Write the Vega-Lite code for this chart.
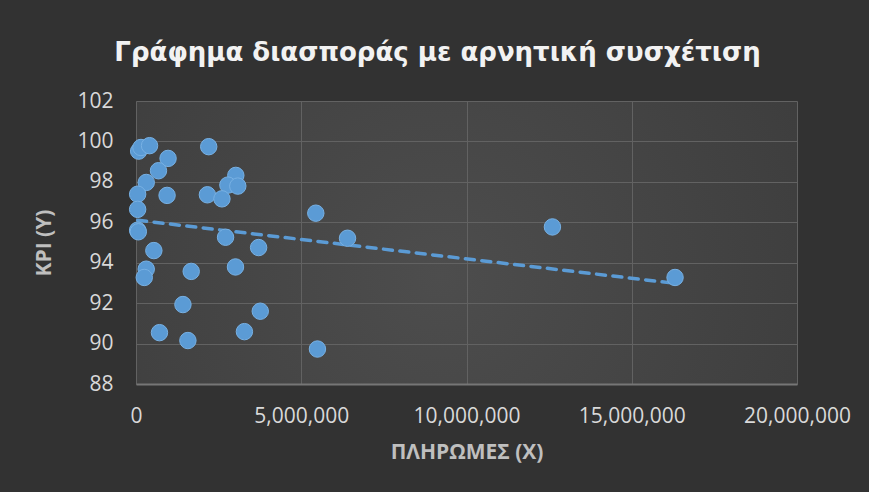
{
  "$schema": "https://vega.github.io/schema/vega-lite/v6.json",
  "width": 661,
  "height": 283,
  "autosize": {"type": "none"},
  "padding": {"left": 136, "top": 101, "right": 72, "bottom": 108},
  "background": "#323232",
  "title": {
    "text": "Γράφημα διασποράς με αρνητική συσχέτιση",
    "font": "DejaVu Sans",
    "fontSize": 26,
    "fontWeight": "bold",
    "color": "#f2f2f2",
    "anchor": "middle",
    "frame": "group",
    "dx": -29,
    "offset": 24
  },
  "config": {
    "view": {
      "stroke": null,
      "fill": {"gradient": "radial", "x1": 0.46, "y1": 0.55, "r1": 0, "x2": 0.46, "y2": 0.55, "r2": 0.75, "stops": [{"offset": 0, "color": "#4d4d4d"}, {"offset": 1, "color": "#3a3a3a"}]}
    },
    "axis": {
      "labelFont": "Open Sans",
      "labelFontSize": 21,
      "labelColor": "#d9d9d9",
      "titleFont": "Open Sans",
      "titleFontSize": 21,
      "titleFontWeight": "bold",
      "titleColor": "#bfbfbf",
      "gridColor": "#626262",
      "gridWidth": 1,
      "ticks": false
    }
  },
  "datasets": {
    "points": [
      {"payments": 80000, "kpi": 99.52},
      {"payments": 150000, "kpi": 99.70},
      {"payments": 410000, "kpi": 99.79},
      {"payments": 2200000, "kpi": 99.74},
      {"payments": 970000, "kpi": 99.16},
      {"payments": 680000, "kpi": 98.55},
      {"payments": 3020000, "kpi": 98.32},
      {"payments": 2780000, "kpi": 97.84},
      {"payments": 3080000, "kpi": 97.79},
      {"payments": 310000, "kpi": 97.97},
      {"payments": 50000, "kpi": 97.39},
      {"payments": 940000, "kpi": 97.33},
      {"payments": 2160000, "kpi": 97.36},
      {"payments": 2600000, "kpi": 97.16},
      {"payments": 50000, "kpi": 96.64},
      {"payments": 5440000, "kpi": 96.45},
      {"payments": 50000, "kpi": 95.61},
      {"payments": 70000, "kpi": 95.53},
      {"payments": 2710000, "kpi": 95.26},
      {"payments": 6400000, "kpi": 95.21},
      {"payments": 540000, "kpi": 94.60},
      {"payments": 3710000, "kpi": 94.75},
      {"payments": 310000, "kpi": 93.68},
      {"payments": 250000, "kpi": 93.27},
      {"payments": 1670000, "kpi": 93.57},
      {"payments": 3010000, "kpi": 93.79},
      {"payments": 1420000, "kpi": 91.93},
      {"payments": 3760000, "kpi": 91.60},
      {"payments": 710000, "kpi": 90.54},
      {"payments": 1570000, "kpi": 90.15},
      {"payments": 3280000, "kpi": 90.59},
      {"payments": 5490000, "kpi": 89.73},
      {"payments": 12600000, "kpi": 95.77},
      {"payments": 16310000, "kpi": 93.27}
    ],
    "trend": [
      {"payments": 50000, "kpi": 96.1},
      {"payments": 16200000, "kpi": 93.0}
    ]
  },
  "layer": [
    {
      "data": {"name": "trend"},
      "mark": {"type": "line", "color": "#5b9bd5", "strokeWidth": 3.5, "strokeDash": [9, 7.5], "strokeCap": "round"},
      "encoding": {
        "x": {"field": "payments", "type": "quantitative"},
        "y": {"field": "kpi", "type": "quantitative"}
      }
    },
    {
      "data": {"name": "points"},
      "mark": {"type": "circle", "size": 270, "color": "#5b9bd5", "opacity": 1, "stroke": "#78b1e4", "strokeWidth": 1},
      "encoding": {
        "x": {
          "field": "payments",
          "type": "quantitative",
          "scale": {"domain": [0, 20000000], "nice": false, "zero": true},
          "axis": {
            "title": "ΠΛΗΡΩΜΕΣ (Χ)",
            "values": [0, 5000000, 10000000, 15000000, 20000000],
            "format": ",d",
            "labelFlush": false,
            "labelOverlap": false,
            "labelPadding": 21,
            "titlePadding": 15,
            "domain": true,
            "domainColor": "#767676",
            "domainWidth": 2
          }
        },
        "y": {
          "field": "kpi",
          "type": "quantitative",
          "scale": {"domain": [88, 102], "nice": false, "zero": false},
          "axis": {
            "title": "KPI (Y)",
            "values": [88, 90, 92, 94, 96, 98, 100, 102],
            "labelPadding": 23,
            "labelOverlap": false,
            "titlePadding": 22,
            "domain": false
          }
        }
      }
    }
  ]
}
